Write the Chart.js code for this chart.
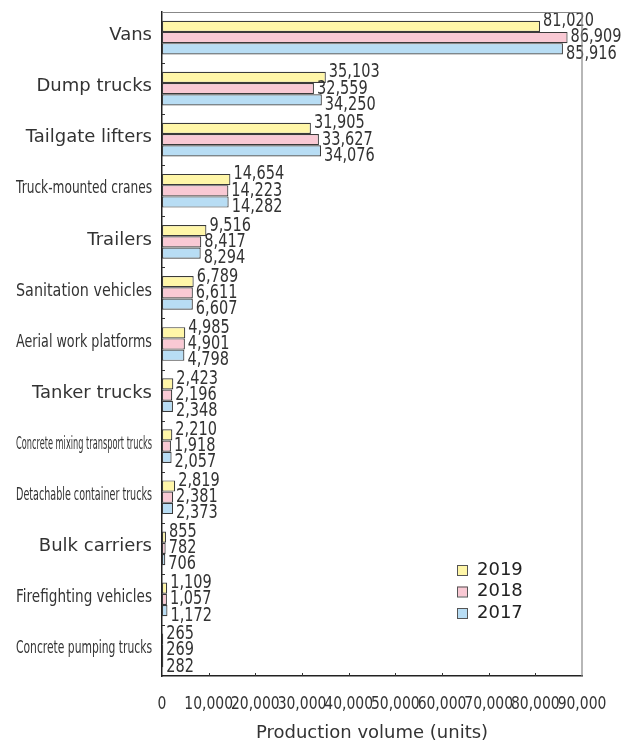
<!DOCTYPE html>
<html>
<head>
<meta charset="utf-8">
<title>Production volume</title>
<script src="https://cdn.jsdelivr.net/npm/chart.js@4.4.1/dist/chart.umd.min.js"></script>
<style>
  html, body { margin: 0; padding: 0; background: #fff; }
  #wrap { width: 630px; height: 744px; }
</style>
</head>
<body>
<div id="wrap"><canvas id="myChart"></canvas></div>
<script>
const categories = ['Vans', 'Dump trucks', 'Tailgate lifters', 'Truck-mounted cranes', 'Trailers',
  'Sanitation vehicles', 'Aerial work platforms', 'Tanker trucks', 'Concrete mixing transport trucks',
  'Detachable container trucks', 'Bulk carriers', 'Firefighting vehicles', 'Concrete pumping trucks'];
const years = ['2019', '2018', '2017'];
const values2019 = [81020, 35103, 31905, 14654, 9516, 6789, 4985, 2423, 2210, 2819, 855, 1109, 265];
const values2018 = [86909, 32559, 33627, 14223, 8417, 6611, 4901, 2196, 1918, 2381, 782, 1057, 269];
const values2017 = [85916, 34250, 34076, 14282, 8294, 6607, 4798, 2348, 2057, 2373, 706, 1172, 282];
const xTickValues = [0, 10000, 20000, 30000, 40000, 50000, 60000, 70000, 80000, 90000];
const xTitle = 'Production volume (units)';

const narrow = '"DejaVu Sans Condensed", "DejaVu Sans", sans-serif';
const fills = ['#fff6a8', '#f9c9d4', '#b8ddf4'];
const fmt = v => v.toLocaleString('en-US');

// text squeezed sideways, the way the original renders its numbers
function squeezed(ctx, text, x, y, k) {
  ctx.fillText(text, x, y, ctx.measureText(text).width * k);
}

// category names, squeezed to fit like the original
const sideLabels = {
  id: 'sideLabels',
  afterDraw(chart) {
    const ctx = chart.ctx, y = chart.scales.y;
    ctx.save();
    ctx.font = '18px "DejaVu Sans"';
    ctx.fillStyle = '#333';
    ctx.textAlign = 'right';
    ctx.textBaseline = 'middle';
    categories.forEach((c, i) => ctx.fillText(c, y.right - 10, y.getPixelForValue(i) - 2, 136));
    ctx.restore();
  }
};

// x tick numbers
const bottomLabels = {
  id: 'bottomLabels',
  afterDraw(chart) {
    const ctx = chart.ctx, x = chart.scales.x, a = chart.chartArea;
    ctx.save();
    ctx.font = '18px ' + narrow;
    ctx.fillStyle = '#333';
    ctx.textAlign = 'center';
    ctx.textBaseline = 'middle';
    x.ticks.forEach(t => squeezed(ctx, fmt(t.value), x.getPixelForValue(t.value), a.bottom + 28, 0.86));
    ctx.restore();
  }
};

// frame + inward tick marks
const frame = {
  id: 'frame',
  afterDraw(chart) {
    const ctx = chart.ctx, a = chart.chartArea, x = chart.scales.x, y = chart.scales.y;
    ctx.save();
    ctx.strokeStyle = '#888';
    ctx.lineWidth = 1.2;
    ctx.beginPath();
    ctx.moveTo(a.left, a.top + 0.5);
    ctx.lineTo(a.right, a.top + 0.5);
    ctx.lineTo(a.right, a.bottom);
    ctx.stroke();
    ctx.strokeStyle = '#333';
    ctx.lineWidth = 1;
    ctx.beginPath();
    x.ticks.forEach(t => {
      if (t.value <= 0 || t.value >= 90000) return;
      const px = Math.round(x.getPixelForValue(t.value)) + 0.5;
      ctx.moveTo(px, a.bottom);
      ctx.lineTo(px, a.bottom - 3);
    });
    for (let i = 0; i < categories.length - 1; i++) {
      const py = Math.round((y.getPixelForValue(i) + y.getPixelForValue(i + 1)) / 2) + 0.5;
      ctx.moveTo(a.left, py);
      ctx.lineTo(a.left + 3, py);
    }
    ctx.stroke();
    ctx.restore();
  }
};

const valueLabels = {
  id: 'valueLabels',
  afterDatasetsDraw(chart) {
    const ctx = chart.ctx;
    const shift = [-5, 0, 5];
    ctx.save();
    ctx.font = '19px ' + narrow;
    ctx.fillStyle = '#333';
    ctx.textAlign = 'left';
    ctx.textBaseline = 'middle';
    chart.data.datasets.forEach((ds, di) => {
      chart.getDatasetMeta(di).data.forEach((bar, i) => {
        squeezed(ctx, fmt(ds.data[i]), bar.x + 3, bar.y + shift[di], 0.85);
      });
    });
    ctx.restore();
  }
};

const boxLegend = {
  id: 'boxLegend',
  afterDraw(chart) {
    const ctx = chart.ctx, a = chart.chartArea;
    const x0 = a.right - 125, y0 = a.bottom - 106;
    ctx.save();
    ctx.font = '18px "DejaVu Sans"';
    ctx.textBaseline = 'middle';
    chart.data.datasets.forEach((ds, i) => {
      const cy = y0 + i * 21.5;
      ctx.fillStyle = ds.backgroundColor;
      ctx.fillRect(x0, cy - 5, 10, 10);
      ctx.strokeStyle = '#555';
      ctx.lineWidth = 1;
      ctx.strokeRect(x0 + 0.5, cy - 4.5, 10, 10);
      ctx.fillStyle = '#222';
      ctx.fillText(ds.label, x0 + 20, cy);
    });
    ctx.restore();
  }
};

const seriesValues = [values2019, values2018, values2017];

new Chart(document.getElementById('myChart'), {
  type: 'bar',
  data: {
    labels: categories,
    datasets: years.map((yr, i) => ({
      label: yr,
      data: seriesValues[i],
      backgroundColor: fills[i],
      borderColor: '#3a3a3a',
      borderWidth: 1.2,
      borderSkipped: false,
      categoryPercentage: 0.66,
      barPercentage: 1
    }))
  },
  options: {
    indexAxis: 'y',
    responsive: true,
    maintainAspectRatio: false,
    animation: false,
    layout: { padding: { top: 12, right: 48, bottom: 0, left: 0 } },
    plugins: { legend: { display: false }, tooltip: { enabled: false } },
    scales: {
      x: {
        min: 0,
        max: 90000,
        afterBuildTicks: s => { s.ticks = xTickValues.map(v => ({ value: v })); },
        afterFit: s => { s.height = 68; },
        grid: { display: false, drawTicks: false },
        border: { display: true, color: '#222', width: 1.5 },
        ticks: { display: false },
        title: {
          display: true,
          text: xTitle,
          color: '#333',
          font: { family: '"DejaVu Sans"', size: 18 },
          padding: { top: 0, bottom: 0 }
        }
      },
      y: {
        afterFit: s => { s.width = 162; },
        grid: { display: false, drawTicks: false },
        border: { display: true, color: '#222', width: 1.5 },
        ticks: { display: false }
      }
    }
  },
  plugins: [valueLabels, frame, sideLabels, bottomLabels, boxLegend]
});
</script>
</body>
</html>
